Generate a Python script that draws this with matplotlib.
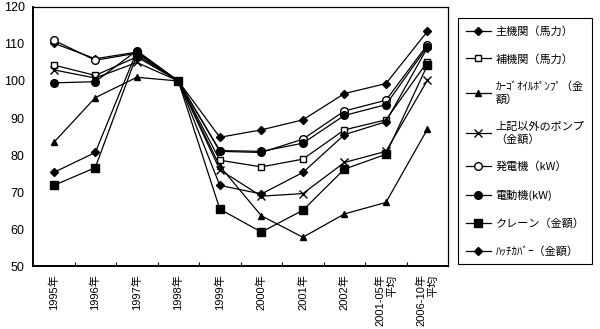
import matplotlib
matplotlib.use('Agg')
import matplotlib.pyplot as plt
import numpy as np

# categories and series (index, 1998 = 100)
years = ['1995年', '1996年', '1997年', '1998年', '1999年', '2000年', '2001年', '2002年',
         '2001-05年\n平均', '2006-10年\n平均']

main_engine = [110.2, 106.0, 107.8, 100, 84.8, 86.8, 89.5, 96.6, 99.3, 113.4]
aux_engine = [104.3, 101.5, 106.5, 100, 78.6, 76.8, 78.9, 86.8, 89.5, 105.2]
cargo_pump = [83.4, 95.5, 101.0, 100, 77.0, 63.6, 57.8, 64.1, 67.2, 87.0]
other_pump = [103.0, 100.8, 105.0, 100, 76.0, 68.9, 69.6, 78.0, 81.0, 100.2]
generator = [111.0, 105.6, 107.5, 100, 81.0, 80.7, 84.3, 91.9, 94.8, 109.8]
motor = [99.5, 99.8, 108.2, 100, 81.2, 81.0, 83.2, 90.7, 93.6, 109.3]
crane = [71.8, 76.6, 107.0, 100, 65.4, 59.2, 65.1, 76.2, 80.2, 104.3]
hatch_cover = [75.3, 80.7, 108.0, 100, 71.8, 69.5, 75.3, 85.5, 89.0, 109.0]

labels = ['主機関（馬力）', '補機関（馬力）', 'ｶｰｺﾞｵｲﾙﾎﾟﾝﾌﾟ（金\n額）', '上記以外のポンプ\n（金額）',
          '発電機（kW）', '電動機(kW)', 'クレーン（金額）', 'ﾊｯﾁｶﾊﾞｰ（金額）']

plt.rcParams['font.family'] = ['Liberation Sans', 'Noto Sans CJK JP', 'DejaVu Sans']

fig = plt.figure(figsize=(6, 3.29), dpi=100)
ax = fig.add_axes([0.055, 0.191, 0.692, 0.788])

x = np.arange(len(years))
series = [
    (main_engine, 'D', 'black', 4),
    (aux_engine, 's', 'white', 5),
    (cargo_pump, '^', 'black', 5),
    (other_pump, 'x', 'black', 6),
    (generator, 'o', 'white', 5.5),
    (motor, 'o', 'black', 5.5),
    (crane, 's', 'black', 5.5),
    (hatch_cover, 'D', 'black', 4),
]
for (vals, mk, fc, ms), lab in zip(series, labels):
    ax.plot(x, vals, color='black', lw=0.9, marker=mk, markersize=ms,
            markerfacecolor=fc, markeredgecolor='black', markeredgewidth=1.0, label=lab)

ax.set_xlim(-0.5, len(years) - 0.5)
ax.set_ylim(50, 120)
ax.set_yticks(range(50, 121, 10))
ax.tick_params(axis='y', length=0, pad=6, labelsize=9)

ax.set_xticks(x)
ax.set_xticklabels(years, rotation=90, va='top', ha='center', multialignment='right', fontsize=8)
ax.tick_params(axis='x', length=0, pad=6)
ax.set_xticks(np.arange(0.5, len(years) - 1, 1), minor=True)
ax.tick_params(axis='x', which='minor', direction='in', length=3, width=0.8)

for side in ['left', 'bottom']:
    ax.spines[side].set_linewidth(1.4)
for side in ['top', 'right']:
    ax.spines[side].set_linewidth(0.9)

leg = fig.legend(loc='upper left', bbox_to_anchor=(0.763, 0.945),
                 prop={'family': ['Noto Sans CJK JP', 'DejaVu Sans'], 'size': 8},
                 frameon=True, fancybox=False, edgecolor='black', framealpha=1,
                 labelspacing=1.55, handlelength=2.3, handletextpad=0.4,
                 borderpad=0.7, borderaxespad=0)
leg.get_frame().set_linewidth(0.8)

fig.savefig('out.png', dpi=100)
